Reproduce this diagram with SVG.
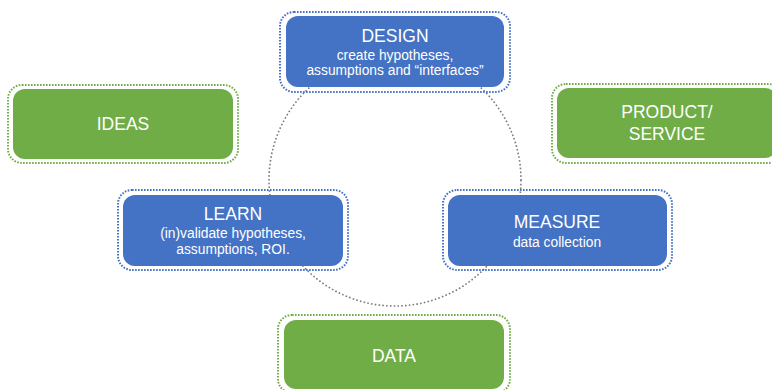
<svg xmlns="http://www.w3.org/2000/svg" width="772" height="390" viewBox="0 0 772 390">
  <style>
    .blue { fill: #4472C4; }
    .green { fill: #70AD47; }
    .ring-blue { fill: none; stroke: #4472C4; stroke-width: 2; stroke-dasharray: 1.6 1.4; }
    .ring-green { fill: none; stroke: #70AD47; stroke-width: 2; stroke-dasharray: 1.6 1.4; }
    .title { font-family: "Liberation Sans", Arial, sans-serif; font-size: 17.5px; fill: #ffffff; text-anchor: middle; }
    .sub { font-family: "Liberation Sans", Arial, sans-serif; font-size: 13.8px; fill: #ffffff; text-anchor: middle; }
    .cycle { fill: none; stroke: #7a7a7a; stroke-width: 1.6; stroke-dasharray: 1.6 2.2; }
  </style>

  <!-- cycle connecting the four stages -->
  <g id="connectors">
    <circle class="cycle" cx="395" cy="180" r="126"/>
  </g>

  <g id="design">
    <rect class="ring-blue" x="280" y="12" width="230" height="80" rx="14"/>
    <rect class="blue" x="286" y="16" width="218" height="71" rx="12"/>
    <text class="title" x="395" y="42">DESIGN</text>
    <text class="sub" x="395" y="60">create hypotheses,</text>
    <text class="sub" x="395" y="75">assumptions and “interfaces”</text>
  </g>

  <g id="ideas">
    <rect class="ring-green" x="8" y="85" width="230" height="78" rx="14"/>
    <rect class="green" x="13" y="89" width="220" height="70" rx="12"/>
    <text class="title" x="123" y="130">IDEAS</text>
  </g>

  <g id="product">
    <rect class="ring-green" x="552" y="84" width="230" height="79" rx="14"/>
    <rect class="green" x="557" y="88" width="220" height="70" rx="12"/>
    <text class="title" x="667" y="118">PRODUCT/</text>
    <text class="title" x="667" y="140">SERVICE</text>
  </g>

  <g id="learn">
    <rect class="ring-blue" x="118" y="190" width="230" height="80" rx="14"/>
    <rect class="blue" x="123" y="195" width="220" height="71" rx="12"/>
    <text class="title" x="233" y="220">LEARN</text>
    <text class="sub" x="233" y="238">(in)validate hypotheses,</text>
    <text class="sub" x="233" y="254">assumptions, ROI.</text>
  </g>

  <g id="measure">
    <rect class="ring-blue" x="443" y="190" width="229" height="80" rx="14"/>
    <rect class="blue" x="448" y="195" width="219" height="71" rx="12"/>
    <text class="title" x="557" y="228">MEASURE</text>
    <text class="sub" x="557" y="247">data collection</text>
  </g>

  <g id="data">
    <rect class="ring-green" x="278" y="315" width="232" height="78" rx="14"/>
    <rect class="green" x="284" y="320" width="220" height="69" rx="12"/>
    <text class="title" x="394" y="362">DATA</text>
  </g>
</svg>
